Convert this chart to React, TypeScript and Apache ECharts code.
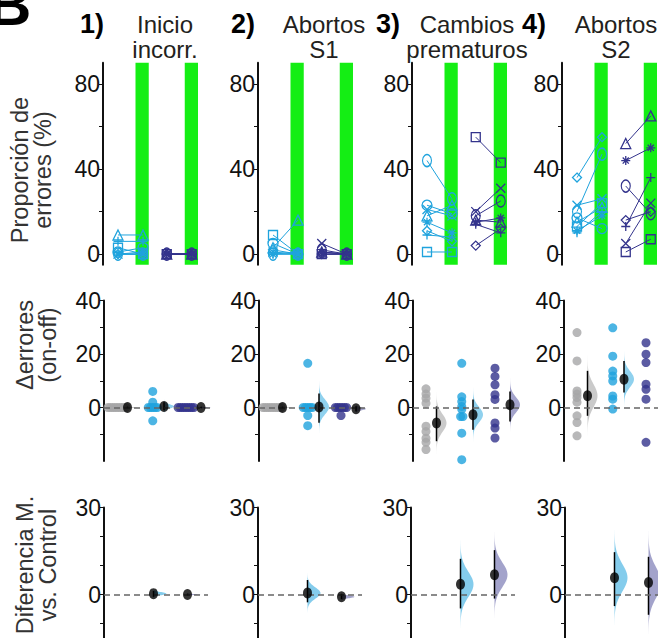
import React, { useEffect, useRef } from "react";
import * as echarts from "echarts";

const FONT = "'Liberation Sans', Arial, Helvetica, sans-serif";
const LIGHT = "#1fa3dd";
const DARK = "#33338c";
const GRAY = "#a6a6a8";
const GREEN = "#14ee14";
const PAGE_W = 658;
const PAGE_H = 638;

// Titles and row names
const panelNums = ["1)", "2)", "3)", "4)"];
const panelTitle1 = ["Inicio", "Abortos", "Cambios", "Abortos"];
const panelTitle2 = ["incorr.", "S1", "prematuros", "S2"];
const rowNames = ["Proporción de\nerrores (%)", "Δerrores\n(on-off)", "Diferencia M.\nvs. Control"];

// Tick values
const topTicks = [0, 20, 40, 60, 80];
const topLabels = [0, 40, 80];
const midTicks = [-10, 0, 10, 20, 30, 40];
const midLabels = [0, 20, 40];
const botTicks = [-10, 0, 10, 20, 30];
const botLabels = [0, 30];

// Top row: % errors off (laser off) vs on, per subject
const lightSymbols = ["rect", "triangle", "circle", "diamond", "x", "plus", "star", "ellipse"];
const darkSymbols = ["rect", "triangle", "ellipse", "diamond", "x", "plus", "star"];
const lightOff = [
  [3, 9, 1, 0, 0, 6, 0, 0],
  [9, 3, 5, 2, 1, 0, 0, 0],
  [1, 18, 23, 11, 21, 9, 15, 44],
  [13, 15, 17, 36, 23, 10, 11, 20],
];
const lightOn = [
  [0, 9, 3, 0, 1, 6, 0, 0],
  [0, 16, 0, 0, 0, 1, 0, 0],
  [1, 23, 19, 6, 18, 8, 10, 26],
  [24, 22, 12, 55, 26, 20, 18, 47],
];
const darkOff = [
  [0, 0, 0, 0, 0, 0, 0],
  [0, 1, 2, 0, 5, 0, 1],
  [55, 16, 18, 4, 20, 14, 15],
  [1, 52, 32, 16, 5, 13, 44],
];
const darkOn = [
  [0, 0, 0, 0, 0, 0, 0],
  [0, 0, 0, 0, 0, 0, 0],
  [43, 15, 25, 12, 31, 10, 17],
  [7, 65, 19, 20, 24, 36, 50],
];

// Middle row: Δ errors (on - off)
const deltaGray = [
  [0, 0, 0, 0, 0, 0, 0, 0, 0],
  [0, 0, 0, 0, 0, 0, 0, 0, 0],
  [7, 5, 3.5, 1.6, -7, -9, -11.5, -13, -15.7],
  [28, 17.4, 6.2, 5, 3.7, 2, -3.1, -5.6, -10.6],
];
const deltaLight = [
  [6, 2, 0, 0, 0, 0, 0, -5],
  [16.5, 0, 0, 0, 0, 0, -3, -6.8],
  [16.5, 4, 2.2, 0.4, -0.7, -3.4, -3.4, -9.6, -19.5],
  [29.8, 19.2, 13.6, 11.8, 9.9, 4.3, 3.1, -0.6],
];
const deltaDark = [
  [0, 0, 0, 0, 0, 0, 0, 0],
  [0, 0, 0, 0, 0, -3, 0],
  [14.7, 11.6, 8.5, 4.8, 3, -5.8, -7.7, -11.4],
  [24.2, 19.9, 16.8, 8.7, 6.8, 3.1, -13],
];
const grayMean = [0, 0, -5.8, 4.4];
const grayLo = [-0.3, -0.3, -12.6, -3.1];
const grayHi = [0.3, 0.3, 0.4, 13.7];
const lightMean = [0.4, 0.2, -2.7, 10.6];
const lightLo = [-1, -5.7, -8.3, 5.6];
const lightHi = [2, 5.2, 3, 17.4];
const darkMean = [0, -0.5, 1, 8];
const darkLo = [-0.3, -1.5, -5.2, 1];
const darkHi = [0.3, 0.5, 6, 15];

// Bottom row: mean difference vs Control
const diffLightMean = [0.3, 0.5, 3.5, 5.8];
const diffLightLo = [-0.8, -2.7, -4.8, -4];
const diffLightHi = [1.2, 5, 12.3, 14.6];
const diffDarkMean = [0, -0.8, 6.8, 4.1];
const diffDarkLo = [-0.3, -1.6, -1.4, -7];
const diffDarkHi = [0.3, 0.2, 15.3, 13];

// Layout
const topLeft = [103, 258, 412, 562];
const midLeft = [104, 259, 413, 564];
const botLeft = [104, 258, 411, 565];
const PX = 25; // px per x unit
const TOP = { top: 62.75, height: 202, min: -5, max: 90, width: 105 };
const MID = { top: 300.5, height: 160.5, min: -20, max: 40, width: 107 };
const BOT = { top: 507.5, height: 130.5, min: -15, max: 30, width: 104 };
const X_TOP = { lOff: 0.6, lOn: 1.6, dOff: 2.55, dOn: 3.55 };
const GREEN_BANDS = [
  [1.3, 1.83],
  [3.27, 3.8],
];
const X_MID = { gPts: 0.52, gMean: 0.94, lPts: 1.95, lMean: 2.4, dPts: 3.28, dMean: 3.88 };
const X_BOT = { l: 1.98, d: 3.34 };

const PATHS: Record<string, string> = {
  x: "path://M0,0L10,10M10,0L0,10",
  plus: "path://M5,0L5,10M0,5L10,5",
  star: "path://M5,0L5,10M0,5L10,5M1.6,1.6L8.4,8.4M8.4,1.6L1.6,8.4",
};

function symbolOf(name: string) {
  if (name === "ellipse") return "circle";
  if (PATHS[name]) return PATHS[name];
  return name;
}
function symbolSizeOf(name: string): any {
  if (name === "ellipse") return [9, 12];
  if (name === "circle") return 10;
  if (name === "triangle") return 10;
  return 9;
}

function swarm(center: number, vals: number[], step: number) {
  const counts: Record<string, number> = {};
  vals.forEach((v) => {
    counts[String(v)] = (counts[String(v)] || 0) + 1;
  });
  const seen: Record<string, number> = {};
  return vals.map((v) => {
    const key = String(v);
    const n = counts[key];
    const k = seen[key] || 0;
    seen[key] = k + 1;
    return [center + (k - (n - 1) / 2) * step, v];
  });
}

function violin(idx: number, color: string, opacity: number, maxW: number, data: number[][]) {
  return {
    type: "custom",
    xAxisIndex: idx,
    yAxisIndex: idx,
    z: 2,
    silent: true,
    clip: false,
    data,
    renderItem: (_p: any, api: any) => {
      const x = api.value(0);
      const m = api.value(1);
      const lo = api.value(2);
      const hi = api.value(3);
      const sd = Math.max((hi - lo) / 3.92, 0.05);
      const N = 48;
      const outer: number[][] = [];
      const inner: number[][] = [];
      const base = api.coord([x, m])[0];
      for (let i = 0; i <= N; i++) {
        const t = -3.5 + (7 * i) / N;
        const py = api.coord([x, m + t * sd])[1];
        outer.push([base + maxW * Math.exp((-t * t) / 2), py]);
        inner.unshift([base, py]);
      }
      return {
        type: "polygon",
        shape: { points: outer.concat(inner) },
        style: { fill: color, opacity },
      };
    },
  };
}

function ciSeries(idx: number, data: number[][]) {
  return {
    type: "custom",
    xAxisIndex: idx,
    yAxisIndex: idx,
    z: 4,
    silent: true,
    data,
    renderItem: (_p: any, api: any) => {
      const a = api.coord([api.value(0), api.value(2)]);
      const b = api.coord([api.value(0), api.value(3)]);
      return {
        type: "line",
        shape: { x1: a[0], y1: a[1], x2: b[0], y2: b[1] },
        style: { stroke: "#000", lineWidth: 1.5 },
      };
    },
  };
}

function meanSeries(idx: number, data: number[][]) {
  return {
    type: "scatter",
    xAxisIndex: idx,
    yAxisIndex: idx,
    z: 5,
    silent: true,
    symbol: "circle",
    symbolSize: [9, 11],
    itemStyle: { color: "#000" },
    data,
  };
}

function zeroLine() {
  return {
    silent: true,
    symbol: ["none", "none"],
    label: { show: false },
    lineStyle: { type: [6, 4], color: "#666", width: 1.5 },
    data: [{ yAxis: 0 }],
  };
}

function yAxisOf(idx: number, row: any, ticks: number[], labels: number[]) {
  return {
    gridIndex: idx,
    type: "value",
    min: row.min,
    max: row.max,
    axisLine: { show: true, lineStyle: { color: "#111", width: 2 } },
    axisTick: { show: true, length: 4, inside: false, lineStyle: { color: "#111", width: 1 }, customValues: ticks },
    axisLabel: { show: true, fontSize: 23, color: "#111", margin: 3, fontFamily: FONT, customValues: labels },
    splitLine: { show: false },
  };
}

function fitWidth(left: number, width: number) {
  return Math.min(width, PAGE_W - left);
}

function buildOption() {
  const grid: any[] = [];
  const xAxis: any[] = [];
  const yAxis: any[] = [];
  const series: any[] = [];

  // Top row
  for (let c = 0; c < 4; c++) {
    const idx = c;
    const w = fitWidth(topLeft[c], TOP.width);
    grid.push({ left: topLeft[c], top: TOP.top, width: w, height: TOP.height });
    xAxis.push({ gridIndex: idx, type: "value", min: 0, max: w / PX, show: false });
    yAxis.push(yAxisOf(idx, TOP, topTicks, topLabels));
    series.push({
      type: "custom",
      xAxisIndex: idx,
      yAxisIndex: idx,
      z: 1,
      silent: true,
      data: GREEN_BANDS,
      renderItem: (_p: any, api: any) => {
        const a = api.coord([api.value(0), TOP.max]);
        const b = api.coord([api.value(1), TOP.min]);
        return {
          type: "rect",
          shape: { x: a[0], y: a[1], width: b[0] - a[0], height: b[1] - a[1] },
          style: { fill: GREEN },
        };
      },
    });
    const addSubj = (off: number, on: number, x0: number, x1: number, sym: string, color: string) => {
      series.push({
        type: "line",
        xAxisIndex: idx,
        yAxisIndex: idx,
        z: 3,
        silent: true,
        symbol: symbolOf(sym),
        symbolSize: symbolSizeOf(sym),
        lineStyle: { color, width: 1 },
        itemStyle: { color: "rgba(0,0,0,0)", borderColor: color, borderWidth: 1.3 },
        data: [
          [x0, off],
          [x1, on],
        ],
      });
    };
    lightOff[c].forEach((v, i) => addSubj(v, lightOn[c][i], X_TOP.lOff, X_TOP.lOn, lightSymbols[i], LIGHT));
    darkOff[c].forEach((v, i) => addSubj(v, darkOn[c][i], X_TOP.dOff, X_TOP.dOn, darkSymbols[i], DARK));
  }

  // Middle row
  for (let c = 0; c < 4; c++) {
    const idx = 4 + c;
    const w = fitWidth(midLeft[c], MID.width);
    grid.push({ left: midLeft[c], top: MID.top, width: w, height: MID.height });
    xAxis.push({ gridIndex: idx, type: "value", min: 0, max: w / PX, show: false });
    yAxis.push(yAxisOf(idx, MID, midTicks, midLabels));
    const pts = (vals: number[], center: number, color: string, withLine: boolean) => ({
      type: "scatter",
      xAxisIndex: idx,
      yAxisIndex: idx,
      z: 3,
      silent: true,
      symbol: "circle",
      symbolSize: 9,
      itemStyle: { color },
      data: swarm(center, vals, 0.09),
      ...(withLine ? { markLine: zeroLine() } : {}),
    });
    series.push(pts(deltaGray[c], X_MID.gPts, GRAY, true));
    series.push(pts(deltaLight[c], X_MID.lPts, LIGHT, false));
    series.push(pts(deltaDark[c], X_MID.dPts, DARK, false));
    series.push(violin(idx, "#8a8a8a", 0.45, 10, [[X_MID.gMean, grayMean[c], grayLo[c], grayHi[c]]]));
    series.push(violin(idx, LIGHT, 0.5, 10, [[X_MID.lMean, lightMean[c], lightLo[c], lightHi[c]]]));
    series.push(violin(idx, DARK, 0.45, 10, [[X_MID.dMean, darkMean[c], darkLo[c], darkHi[c]]]));
    series.push(
      ciSeries(idx, [
        [X_MID.gMean, grayMean[c], grayLo[c], grayHi[c]],
        [X_MID.lMean, lightMean[c], lightLo[c], lightHi[c]],
        [X_MID.dMean, darkMean[c], darkLo[c], darkHi[c]],
      ])
    );
    series.push(
      meanSeries(idx, [
        [X_MID.gMean, grayMean[c]],
        [X_MID.lMean, lightMean[c]],
        [X_MID.dMean, darkMean[c]],
      ])
    );
  }

  // Bottom row
  for (let c = 0; c < 4; c++) {
    const idx = 8 + c;
    const w = fitWidth(botLeft[c], BOT.width);
    grid.push({ left: botLeft[c], top: BOT.top, width: w, height: BOT.height });
    xAxis.push({ gridIndex: idx, type: "value", min: 0, max: w / PX, show: false });
    yAxis.push(yAxisOf(idx, BOT, botTicks, botLabels));
    series.push({ ...violin(idx, LIGHT, 0.55, 13, [[X_BOT.l, diffLightMean[c], diffLightLo[c], diffLightHi[c]]]), markLine: zeroLine() });
    series.push(violin(idx, DARK, 0.45, 13, [[X_BOT.d, diffDarkMean[c], diffDarkLo[c], diffDarkHi[c]]]));
    series.push(
      ciSeries(idx, [
        [X_BOT.l, diffLightMean[c], diffLightLo[c], diffLightHi[c]],
        [X_BOT.d, diffDarkMean[c], diffDarkLo[c], diffDarkHi[c]],
      ])
    );
    series.push(
      meanSeries(idx, [
        [X_BOT.l, diffLightMean[c]],
        [X_BOT.d, diffDarkMean[c]],
      ])
    );
  }

  const numX = [80, 231, 376, 522];
  const titleX = [165, 324, 467, 616];
  const graphic: any[] = [
    {
      type: "text",
      x: -12,
      y: 4,
      style: { text: "B", fontSize: 60, fontWeight: "bold", fontFamily: FONT, fill: "#000", align: "left", verticalAlign: "middle" },
    },
  ];
  for (let c = 0; c < 4; c++) {
    graphic.push({
      type: "text",
      x: numX[c],
      y: 24,
      style: { text: panelNums[c], fontSize: 27, fontWeight: "bold", fontFamily: FONT, fill: "#000", align: "left", verticalAlign: "middle" },
    });
    graphic.push({
      type: "text",
      x: titleX[c],
      y: 24.5,
      style: { text: panelTitle1[c], fontSize: 24, lineHeight: 23, fontFamily: FONT, fill: "#231f20", align: "center", verticalAlign: "middle" },
    });
    graphic.push({
      type: "text",
      x: titleX[c],
      y: 49.5,
      style: { text: panelTitle2[c], fontSize: 24, lineHeight: 23, fontFamily: FONT, fill: "#231f20", align: "center", verticalAlign: "middle" },
    });
  }
  const rowCx = [31, 36, 36];
  const rowCy = [170, 345, 565];
  for (let r = 0; r < 3; r++) {
    graphic.push({
      type: "text",
      x: rowCx[r],
      y: rowCy[r],
      rotation: Math.PI / 2,
      style: { text: rowNames[r], fontSize: 23.5, lineHeight: 23, fontFamily: FONT, fill: "#333", align: "center", verticalAlign: "middle" },
    });
  }

  return {
    animation: false,
    backgroundColor: "#fff",
    textStyle: { fontFamily: FONT },
    grid,
    xAxis,
    yAxis,
    series,
    graphic,
  };
}

export default function App() {
  const ref = useRef<HTMLDivElement>(null);
  useEffect(() => {
    if (!ref.current) return;
    const chart = echarts.init(ref.current, undefined, { renderer: "svg" });
    chart.setOption(buildOption() as any);
    return () => chart.dispose();
  }, []);
  return <div ref={ref} style={{ position: "absolute", left: 0, top: 0, width: PAGE_W, height: PAGE_H }} />;
}
